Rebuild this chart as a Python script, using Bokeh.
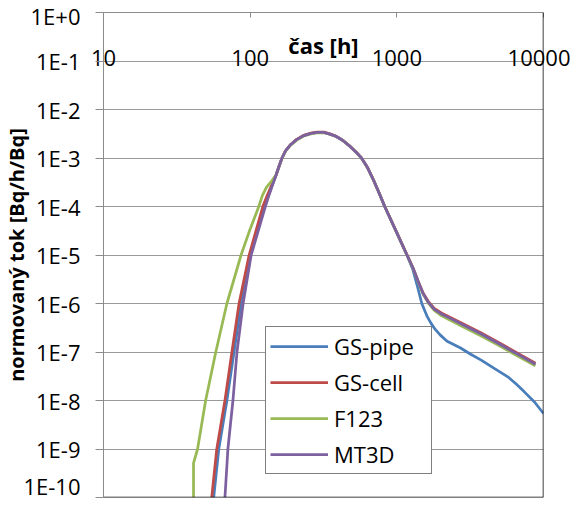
from bokeh.plotting import figure
from bokeh.models import FixedTicker, Legend, LegendItem, Range1d, Span
from bokeh.embed import file_html
from bokeh.resources import INLINE

# ---- data -------------------------------------------------------------
x_ticks = [10, 100, 1000, 10000]
x_tick_labels = ["10", "100", "1000", "10000"]
y_ticks = [1e-10, 1e-9, 1e-8, 1e-7, 1e-6, 1e-5, 1e-4, 1e-3, 1e-2, 1e-1, 1.0]
y_tick_labels = ["1E-10", "1E-9", "1E-8", "1E-7", "1E-6", "1E-5",
                 "1E-4", "1E-3", "1E-2", "1E-1", "1E+0"]

series_names = ["GS-pipe", "GS-cell", "F123", "MT3D"]

pipe_t = [56.4, 61.1, 69.4, 77.6, 86.7, 100, 125, 133.1, 141.4, 150.0, 158.5,
          164.9, 174.3, 188.8, 207.6, 232, 259.3, 285.2, 318.8, 345.1, 383.8,
          426.4, 474.2, 527.4, 571, 631, 694, 757, 826.5, 984, 1172, 1289,
          1385, 1480, 1602, 1716, 1828, 1980, 2202, 2720, 3188, 3736, 4615,
          5710, 6513, 7430, 8710, 10000]
pipe_v = [1e-10, 1e-9, 1e-8, 1e-7, 1e-6, 1e-5, 1e-4, 1.68e-4, 2.73e-4,
          4.42e-4, 7.17e-4, 1.0e-3, 1.41e-3, 1.88e-3, 2.39e-3, 2.9e-3, 3.2e-3,
          3.36e-3, 3.36e-3, 3.15e-3, 2.81e-3, 2.32e-3, 1.79e-3, 1.32e-3,
          1.02e-3, 6.35e-4, 3.48e-4, 1.9e-4, 1.0e-4, 3.18e-5, 1.0e-5, 4.9e-6,
          2.19e-6, 1.0e-6, 5.57e-7, 3.85e-7, 2.92e-7, 2.23e-7, 1.67e-7,
          1.21e-7, 9.0e-8, 6.87e-8, 4.59e-8, 3.08e-8, 2.18e-8, 1.49e-8,
          9.2e-9, 5.4e-9]

cell_t = [54.7, 59.2, 67.3, 75.1, 84.0, 98.4, 122, 130.6, 140.0, 150.0, 158.5,
          164.9, 174.3, 188.8, 207.6, 232, 259.3, 285.2, 318.8, 345.1, 383.8,
          426.4, 474.2, 527.4, 571, 631, 694, 757, 826.5, 984, 1172, 1289,
          1396, 1511, 1636, 1800, 2011, 2212, 2866, 3736, 4870, 6340, 8810]
cell_v = [1e-10, 1e-9, 1e-8, 1e-7, 1e-6, 1e-5, 1e-4, 1.68e-4, 2.73e-4,
          4.42e-4, 7.17e-4, 1.0e-3, 1.41e-3, 1.9e-3, 2.42e-3, 2.94e-3,
          3.25e-3, 3.42e-3, 3.42e-3, 3.18e-3, 2.83e-3, 2.33e-3, 1.8e-3,
          1.33e-3, 1.03e-3, 6.4e-4, 3.5e-4, 1.92e-4, 1.01e-4, 3.22e-5,
          1.02e-5, 5.47e-6, 2.92e-6, 1.64e-6, 1.11e-6, 7.93e-7, 6.38e-7,
          5.52e-7, 3.72e-7, 2.49e-7, 1.61e-7, 1.03e-7, 5.85e-8]

f123_t = [41.1, 41.1, 43.8, 49.7, 58.3, 69.4, 86.7, 98.4, 114.5, 121, 129,
          139.5, 150.0, 158.5, 164.9, 174.3, 188.8, 207.6, 232, 259.3, 285.2,
          318.8, 345.1, 383.8, 426.4, 474.2, 527.4, 571, 631, 694, 757, 826.5,
          984, 1172, 1289, 1396, 1511, 1636, 1800, 2011, 2212, 2866, 3736,
          4870, 6340, 8810]
f123_v = [1e-10, 5.1e-10, 1e-9, 1e-8, 1e-7, 1e-6, 1e-5, 3e-5, 1e-4, 1.68e-4,
          2.48e-4, 3.31e-4, 4.42e-4, 7.1e-4, 9.8e-4, 1.38e-3, 1.84e-3,
          2.34e-3, 2.84e-3, 3.14e-3, 3.3e-3, 3.32e-3, 3.12e-3, 2.79e-3,
          2.31e-3, 1.78e-3, 1.31e-3, 1.01e-3, 6.3e-4, 3.46e-4, 1.89e-4,
          1.0e-4, 3.16e-5, 9.9e-6, 5.3e-6, 2.8e-6, 1.55e-6, 1.03e-6, 7.2e-7,
          5.65e-7, 4.85e-7, 3.25e-7, 2.17e-7, 1.41e-7, 9.0e-8, 5.2e-8]

mt3d_t = [67.3, 70.5, 76.3, 81.3, 89.5, 101.6, 126.9, 134.2, 141.8, 150.0,
          158.5, 164.9, 174.3, 188.8, 207.6, 232, 259.3, 285.2, 318.8, 345.1,
          383.8, 426.4, 474.2, 527.4, 571, 631, 694, 757, 826.5, 984, 1172,
          1289, 1396, 1511, 1636, 1800, 2011, 2212, 2866, 3736, 4870, 6340,
          8810]
mt3d_v = [1e-10, 1e-9, 1e-8, 1e-7, 1e-6, 1e-5, 1e-4, 1.68e-4, 2.73e-4,
          4.42e-4, 7.17e-4, 1.0e-3, 1.41e-3, 1.88e-3, 2.39e-3, 2.9e-3, 3.2e-3,
          3.36e-3, 3.36e-3, 3.15e-3, 2.81e-3, 2.32e-3, 1.79e-3, 1.32e-3,
          1.02e-3, 6.35e-4, 3.48e-4, 1.9e-4, 1.0e-4, 3.18e-5, 1.0e-5, 5.4e-6,
          2.88e-6, 1.6e-6, 1.07e-6, 7.6e-7, 6.1e-7, 5.3e-7, 3.55e-7, 2.37e-7,
          1.53e-7, 9.8e-8, 5.6e-8]

colors = ["#4A7EBB", "#BE4B48", "#98B954", "#7D60A0"]

FONT = "Open Sans"
GRAY = "#8C8C8C"

# ---- figure -----------------------------------------------------------
p = figure(width=570, height=500, x_axis_type="log", y_axis_type="log",
           x_range=Range1d(x_ticks[0], x_ticks[-1]),
           y_range=Range1d(y_ticks[0], y_ticks[-1]),
           x_axis_location="above", output_backend="svg",
           toolbar_location=None, min_border_left=101, min_border_right=27,
           min_border_top=12, min_border_bottom=3)
p.outline_line_color = None
p.background_fill_color = "white"
p.border_fill_color = "white"

p.xgrid.visible = False
p.ygrid.ticker = FixedTicker(ticks=y_ticks)
p.ygrid.grid_line_color = "#9A9A9A"
p.ygrid.grid_line_width = 1

xa = p.xaxis[0]
xa.ticker = FixedTicker(ticks=x_ticks)
xa.major_label_overrides = {t: l for t, l in zip(x_ticks, x_tick_labels)}
xa.major_tick_in = 5
xa.major_tick_out = 0
xa.minor_tick_line_color = None
xa.axis_line_color = GRAY
xa.major_tick_line_color = GRAY
xa.major_label_standoff = -53
xa.major_label_text_font = FONT
xa.major_label_text_font_size = "22px"
xa.major_label_text_color = "black"
xa.axis_label = "čas [h]"
xa.axis_label_text_font = FONT
xa.axis_label_text_font_size = "22px"
xa.axis_label_text_font_style = "bold"
xa.axis_label_text_color = "black"
xa.axis_label_standoff = -13

ya = p.yaxis[0]
ya.ticker = FixedTicker(ticks=y_ticks)
ya.major_label_overrides = {t: l for t, l in zip(y_ticks, y_tick_labels)}
ya.major_tick_in = 0
ya.major_tick_out = 8
ya.minor_tick_line_color = None
ya.axis_line_color = GRAY
ya.major_tick_line_color = GRAY
ya.major_label_standoff = 15
ya.major_label_text_font = FONT
ya.major_label_text_font_size = "22px"
ya.major_label_text_color = "black"
ya.axis_label = "normovaný tok [Bq/h/Bq]"
ya.axis_label_text_font = FONT
ya.axis_label_text_font_size = "20px"
ya.axis_label_text_font_style = "bold"
ya.axis_label_text_color = "black"
ya.axis_label_standoff = -10

# dark frame lines at the bottom (1E-10) and right (10000) ends of the axes
p.add_layout(Span(location=y_ticks[0], dimension="width",
                  line_color="black", line_width=1.5))
p.add_layout(Span(location=x_ticks[-1], dimension="height",
                  line_color="black", line_width=1.5))

# ---- lines ------------------------------------------------------------
renderers = []
for t, v, c in zip([pipe_t, cell_t, f123_t, mt3d_t],
                   [pipe_v, cell_v, f123_v, mt3d_v], colors):
    r = p.line(t, v, line_color=c, line_width=2.75)
    renderers.append(r)

legend = Legend(items=[LegendItem(label=n, renderers=[r])
                       for n, r in zip(series_names, renderers)],
                location=(162, 23), margin=0, padding=4, spacing=6,
                glyph_width=58, glyph_height=30, label_height=30,
                label_width=93, label_standoff=6,
                border_line_color="black", border_line_width=1,
                background_fill_color="white", background_fill_alpha=1,
                label_text_font=FONT, label_text_font_size="22px",
                label_text_color="black")
p.add_layout(legend)

open("out.html", "w").write(file_html(p, INLINE))
